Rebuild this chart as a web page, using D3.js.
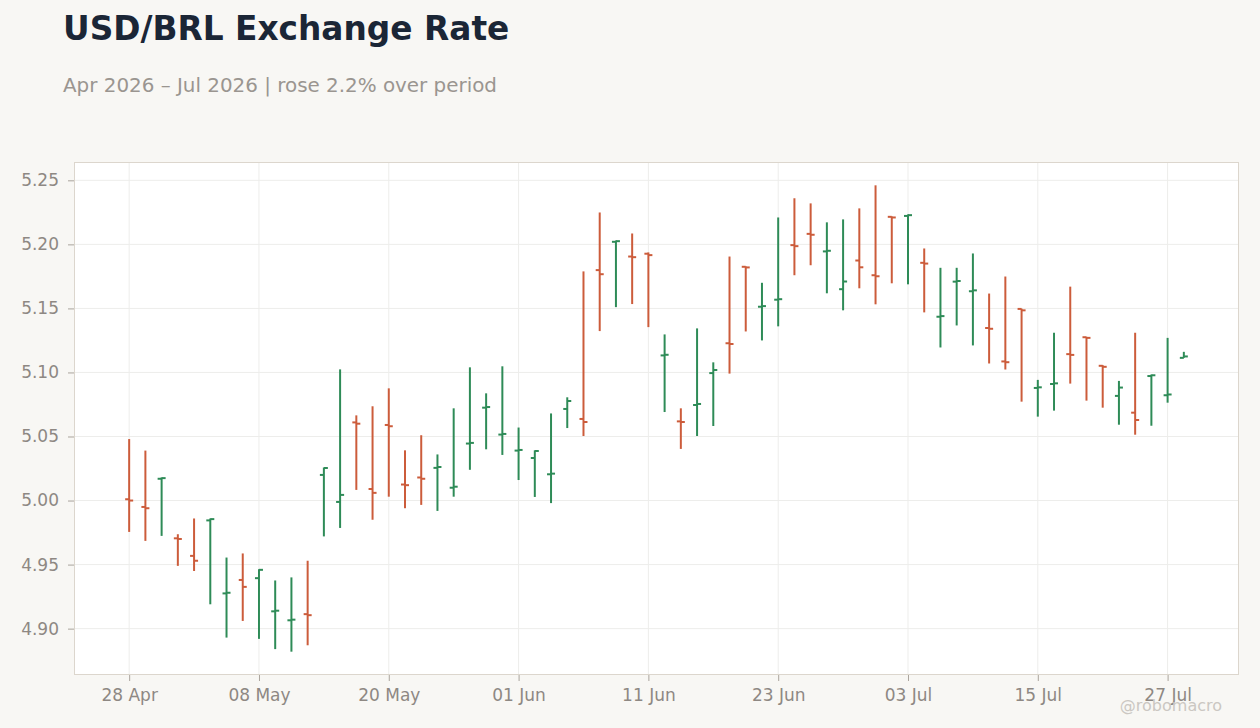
<!DOCTYPE html>
<html>
<head>
<meta charset="utf-8">
<script src="https://cdn.jsdelivr.net/npm/d3@7"></script>
<style>
  html, body { margin: 0; padding: 0; background: #f8f7f4; }
  svg { display: block; }
</style>
</head>
<body>
<svg id="chart" width="1260" height="728"></svg>
<script>
// ---- Data ----
const dates = [
  "2026-04-28","2026-04-29","2026-04-30","2026-05-01","2026-05-04","2026-05-05","2026-05-06","2026-05-07","2026-05-08",
  "2026-05-11","2026-05-12","2026-05-13","2026-05-14","2026-05-15","2026-05-18","2026-05-19","2026-05-20","2026-05-21",
  "2026-05-22","2026-05-25","2026-05-26","2026-05-27","2026-05-28","2026-05-29","2026-06-01","2026-06-02","2026-06-03",
  "2026-06-04","2026-06-05","2026-06-08","2026-06-09","2026-06-10","2026-06-11","2026-06-12","2026-06-15","2026-06-16",
  "2026-06-17","2026-06-18","2026-06-19","2026-06-22","2026-06-23","2026-06-24","2026-06-25","2026-06-26","2026-06-29",
  "2026-06-30","2026-07-01","2026-07-02","2026-07-03","2026-07-06","2026-07-07","2026-07-08","2026-07-09","2026-07-10",
  "2026-07-13","2026-07-14","2026-07-15","2026-07-16","2026-07-17","2026-07-20","2026-07-21","2026-07-22","2026-07-23",
  "2026-07-24","2026-07-27","2026-07-28"
];
const openVals = [
  5.0010,4.9950,5.0170,4.9705,4.9568,4.9845,4.9275,4.9380,4.9394,4.9135,4.9065,4.9113,
  5.0200,4.9989,5.0610,5.0090,5.0590,5.0125,5.0180,5.0255,5.0100,5.0445,5.0725,5.0515,
  5.0390,5.0332,5.0205,5.0715,5.0637,5.1799,5.2020,5.1905,5.1927,5.1133,5.0618,5.0746,
  5.0995,5.1228,5.1825,5.1513,5.1568,5.1994,5.2082,5.1945,5.1650,5.1874,5.1759,5.2215,
  5.2222,5.1856,5.1435,5.1709,5.1634,5.1347,5.1086,5.1496,5.0879,5.0910,5.1143,5.1275,
  5.1052,5.0817,5.0686,5.0972,5.0822,5.1114
];
const highVals = [
  5.0480,5.0390,5.0180,4.9737,4.9860,4.9860,4.9555,4.9587,4.9464,4.9376,4.9400,4.9530,
  5.0258,5.1024,5.0665,5.0736,5.0876,5.0392,5.0510,5.0360,5.0720,5.1040,5.0837,5.1048,
  5.0570,5.0392,5.0680,5.0806,5.1789,5.2249,5.2030,5.2085,5.1937,5.1297,5.0720,5.1344,
  5.1079,5.1905,5.1828,5.1700,5.2210,5.2360,5.2320,5.2172,5.2195,5.2281,5.2461,5.2218,
  5.2234,5.1968,5.1817,5.1817,5.1929,5.1616,5.1749,5.1498,5.0942,5.1310,5.1670,5.1278,
  5.1057,5.0934,5.1310,5.0984,5.1270,5.1161
];
const lowVals = [
  4.9755,4.9685,4.9724,4.9490,4.9450,4.9190,4.8930,4.9060,4.8920,4.8840,4.8820,4.8870,
  4.9720,4.9786,5.0083,4.9850,5.0030,4.9940,4.9966,4.9919,5.0030,5.0240,5.0400,5.0356,
  5.0160,5.0028,4.9980,5.0566,5.0504,5.1323,5.1510,5.1534,5.1354,5.0691,5.0403,5.0504,
  5.0582,5.0991,5.1320,5.1250,5.1360,5.1759,5.1837,5.1618,5.1485,5.1657,5.1532,5.1696,
  5.1688,5.1469,5.1195,5.1367,5.1211,5.1070,5.1023,5.0772,5.0655,5.0702,5.0913,5.0780,
  5.0725,5.0592,5.0514,5.0584,5.0764,5.1114
];
const closeVals = [
  5.0000,4.9940,5.0175,4.9700,4.9530,4.9855,4.9280,4.9326,4.9459,4.9140,4.9070,4.9105,
  5.0254,5.0044,5.0600,5.0060,5.0580,5.0120,5.0170,5.0262,5.0108,5.0450,5.0730,5.0520,
  5.0395,5.0387,5.0210,5.0777,5.0613,5.1767,5.2025,5.1900,5.1916,5.1138,5.0613,5.0754,
  5.1019,5.1222,5.1820,5.1518,5.1572,5.1986,5.2075,5.1950,5.1710,5.1821,5.1751,5.2210,
  5.2228,5.1850,5.1440,5.1714,5.1641,5.1341,5.1080,5.1485,5.0884,5.0915,5.1137,5.1270,
  5.1044,5.0882,5.0629,5.0978,5.0828,5.1125
];
const yTickValues = [4.90, 4.95, 5.00, 5.05, 5.10, 5.15, 5.20, 5.25];
const xTickDates = ["2026-04-28","2026-05-08","2026-05-20","2026-06-01","2026-06-11","2026-06-23","2026-07-03","2026-07-15","2026-07-27"];
const titleText = "USD/BRL Exchange Rate";
const subtitleText = "Apr 2026 \u2013 Jul 2026 | rose 2.2% over period";
const watermarkText = "@robomacro";

// ---- Layout ----
const W = 1260, H = 728;
const plot = { left: 74, right: 1239, top: 162, bottom: 675 };
const upColor = "#2e8b57", downColor = "#cc5c3b";
const font = "'DejaVu Sans', sans-serif";

const rows = dates.map((d, i) => ({
  date: d, open: openVals[i], high: highVals[i], low: lowVals[i], close: closeVals[i]
}));

const svg = d3.select("#chart");
svg.append("rect").attr("width", W).attr("height", H).attr("fill", "#f8f7f4");

// Title / subtitle
svg.append("text").attr("x", 63).attr("y", 40)
  .attr("font-family", font).attr("font-weight", "bold").attr("font-size", 32.8)
  .attr("fill", "#1b2636").text(titleText);
svg.append("text").attr("x", 63).attr("y", 92)
  .attr("font-family", font).attr("font-size", 19.9)
  .attr("fill", "#9a9590").text(subtitleText);

// Scales
const x = d3.scalePoint().domain(dates).range([plot.left, plot.right]).padding(3.4);
const lo = d3.min(lowVals), hi = d3.max(highVals), pad = (hi - lo) * 0.05;
const y = d3.scaleLinear().domain([lo - pad, hi + pad]).range([plot.bottom, plot.top]);

// Plot background
svg.append("rect").attr("x", plot.left).attr("y", plot.top)
  .attr("width", plot.right - plot.left).attr("height", plot.bottom - plot.top)
  .attr("fill", "#ffffff");

// Gridlines
const grid = svg.append("g");
grid.selectAll("line.h").data(yTickValues).join("line")
  .attr("x1", plot.left).attr("x2", plot.right)
  .attr("y1", d => y(d)).attr("y2", d => y(d))
  .attr("stroke", "#ededeb").attr("stroke-width", 1);
grid.selectAll("line.v").data(xTickDates).join("line")
  .attr("x1", d => x(d)).attr("x2", d => x(d))
  .attr("y1", plot.top).attr("y2", plot.bottom)
  .attr("stroke", "#ededeb").attr("stroke-width", 1);

// Border
svg.append("rect").attr("x", plot.left + 0.5).attr("y", plot.top + 0.5)
  .attr("width", plot.right - plot.left - 1).attr("height", plot.bottom - plot.top - 1)
  .attr("fill", "none").attr("stroke", "#dcd6cd").attr("stroke-width", 1);

// Axes
const parse = d3.utcParse("%Y-%m-%d");
const fmt = d3.utcFormat("%d %b");
const xAxis = d3.axisBottom(x).tickValues(xTickDates).tickFormat(d => fmt(parse(d)))
  .tickSize(6).tickPadding(8);
const yAxis = d3.axisLeft(y).tickValues(yTickValues).tickFormat(d3.format(".2f"))
  .tickSize(6).tickPadding(9);

const gx = svg.append("g").attr("transform", `translate(0,${plot.bottom})`).call(xAxis);
const gy = svg.append("g").attr("transform", `translate(${plot.left},0)`).call(yAxis);
[gx, gy].forEach(g => {
  g.select(".domain").remove();
  g.selectAll(".tick line").attr("stroke", "#aaa49d");
  g.selectAll(".tick text").attr("fill", "#8e8883")
    .attr("font-family", font).attr("font-size", 17);
});

// OHLC bars
const bars = svg.append("g");
const tickLen = 4;
const col = d => d.close >= d.open ? upColor : downColor;
const g = bars.selectAll("g.bar").data(rows).join("g").attr("class", "bar");
g.append("line")
  .attr("x1", d => x(d.date)).attr("x2", d => x(d.date))
  .attr("y1", d => y(d.high)).attr("y2", d => y(d.low))
  .attr("stroke", col).attr("stroke-width", 2);
g.append("line")
  .attr("x1", d => x(d.date) - tickLen).attr("x2", d => x(d.date))
  .attr("y1", d => y(d.open)).attr("y2", d => y(d.open))
  .attr("stroke", col).attr("stroke-width", 2);
g.append("line")
  .attr("x1", d => x(d.date)).attr("x2", d => x(d.date) + tickLen)
  .attr("y1", d => y(d.close)).attr("y2", d => y(d.close))
  .attr("stroke", col).attr("stroke-width", 2);

// Watermark
svg.append("text").attr("x", 1222).attr("y", 711).attr("text-anchor", "end")
  .attr("font-family", font).attr("font-size", 16)
  .attr("fill", "#cbc7c2").text(watermarkText);
</script>
</body>
</html>
